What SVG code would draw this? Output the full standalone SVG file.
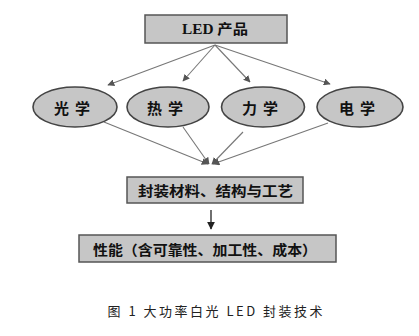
<svg xmlns="http://www.w3.org/2000/svg" width="419" height="336" viewBox="0 0 419 336">
<defs>
<marker id="ah" viewBox="0 0 10 10" refX="9" refY="5" markerWidth="7" markerHeight="7" orient="auto" markerUnits="userSpaceOnUse">
<path d="M0,0 L10,5 L0,10 z" fill="#555"/>
</marker>
<marker id="ahb" viewBox="0 0 10 10" refX="9" refY="5" markerWidth="8" markerHeight="8" orient="auto" markerUnits="userSpaceOnUse">
<path d="M0,0 L10,5 L0,10 z" fill="#222"/>
</marker>
<style>
.box{fill:#c6c6c6;stroke:#555;stroke-width:1.5}
.ell{fill:#c6c6c6;stroke:#444;stroke-width:1.6}
.t{font-family:"Noto Sans CJK SC","Liberation Sans",sans-serif;font-weight:bold;fill:#111;text-anchor:middle;dominant-baseline:central}
.c{stroke:#777;stroke-width:1.1;fill:none}
</style>
</defs>
<rect width="419" height="336" fill="#fff"/>
<g id="connectors">
<line class="c" x1="215" y1="45" x2="108" y2="85" marker-end="url(#ah)"/>
<line class="c" x1="215" y1="45" x2="183" y2="81" marker-end="url(#ah)"/>
<line class="c" x1="215" y1="45" x2="250" y2="82" marker-end="url(#ah)"/>
<line class="c" x1="215" y1="45" x2="330" y2="84" marker-end="url(#ah)"/>
<line class="c" x1="104" y1="122" x2="208" y2="164" marker-end="url(#ah)"/>
<line class="c" x1="183" y1="127" x2="209" y2="164" marker-end="url(#ah)"/>
<line class="c" x1="243" y1="132" x2="212" y2="164" marker-end="url(#ah)"/>
<line class="c" x1="328" y1="123" x2="213" y2="164" marker-end="url(#ah)"/>
<line x1="211" y1="210" x2="211" y2="229" stroke="#222" stroke-width="1.3" marker-end="url(#ahb)"/>
</g>
<g id="n-led">
<rect class="box" x="145" y="15" width="142" height="28"/>
<text class="t" x="215" y="29.5" font-size="14" style="font-family:'Liberation Serif','Noto Sans CJK SC',serif" textLength="66" lengthAdjust="spacingAndGlyphs">LED 产品</text>
</g>
<g id="n-optics">
<ellipse class="ell" cx="75" cy="107" rx="42" ry="20"/>
<text class="t" x="75" y="107" font-size="15" letter-spacing="6">光学</text>
</g>
<g id="n-thermal">
<ellipse class="ell" cx="168" cy="107" rx="41" ry="20"/>
<text class="t" x="168" y="107" font-size="15" letter-spacing="6">热学</text>
</g>
<g id="n-mechanics">
<ellipse class="ell" cx="263" cy="107" rx="41.5" ry="20" stroke="#222" stroke-width="2"/>
<text class="t" x="263" y="107" font-size="15" letter-spacing="6">力学</text>
</g>
<g id="n-electric">
<ellipse class="ell" cx="360" cy="107" rx="43" ry="20"/>
<text class="t" x="360" y="107" font-size="15" letter-spacing="6">电学</text>
</g>
<g id="n-material">
<rect class="box" x="127" y="177" width="176" height="26"/>
<text class="t" x="215.5" y="190" font-size="14" textLength="155" lengthAdjust="spacingAndGlyphs">封装材料、结构与工艺</text>
</g>
<g id="n-performance">
<rect class="box" x="79" y="235" width="257" height="27"/>
<text class="t" x="205" y="248.5" font-size="14" textLength="224" lengthAdjust="spacingAndGlyphs">性能（含可靠性、加工性、成本）</text>
</g>
<text x="215" y="310" font-family="Noto Sans CJK SC, Liberation Sans, sans-serif" font-size="13" fill="#222" text-anchor="middle" dominant-baseline="central" textLength="215" lengthAdjust="spacing">图 1 大功率白光 LED 封装技术</text>
</svg>
